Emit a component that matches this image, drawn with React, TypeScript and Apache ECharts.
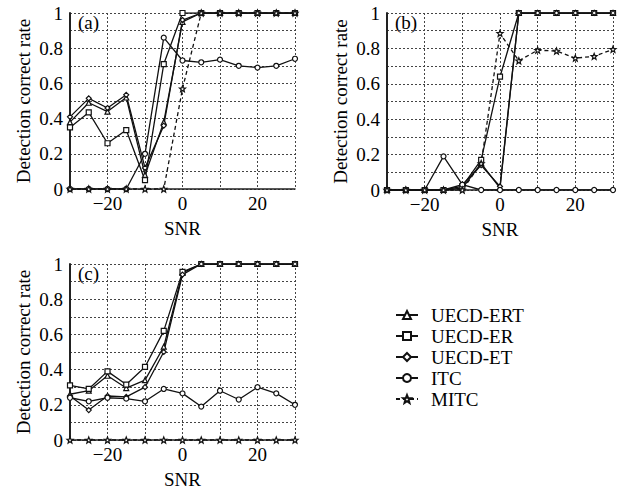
import React, { useEffect, useRef } from "react";
import * as echarts from "echarts";

const snr = [-30, -25, -20, -15, -10, -5, 0, 5, 10, 15, 20, 25, 30];
const seriesNames = ["UECD-ERT", "UECD-ER", "UECD-ET", "ITC", "MITC"];

// Panel (a)
const ertA = [0.38, 0.49, 0.44, 0.52, 0.08, 0.38, 0.95, 1, 1, 1, 1, 1, 1];
const erA = [0.35, 0.435, 0.26, 0.335, 0.05, 0.71, 1.0, 1, 1, 1, 1, 1, 1];
const etA = [0.41, 0.515, 0.46, 0.535, 0.12, 0.36, 0.96, 1, 1, 1, 1, 1, 1];
const itcA = [0, 0, 0, 0, 0.2, 0.86, 0.73, 0.72, 0.735, 0.7, 0.69, 0.7, 0.74];
const mitcA = [0, 0, 0, 0, 0, 0, 0.57, 1, 1, 1, 1, 1, 1];

// Panel (b)
const ertB = [0, 0, 0, 0, 0.01, 0.15, 0.01, 1, 1, 1, 1, 1, 1];
const erB = [0, 0, 0, 0, 0.02, 0.17, 0.64, 1, 1, 1, 1, 1, 1];
const etB = [0, 0, 0, 0, 0.03, 0.14, 0.02, 1, 1, 1, 1, 1, 1];
const itcB = [0, 0, 0, 0.19, 0.03, 0, 0, 0, 0, 0, 0, 0, 0];
const mitcB = [0, 0, 0, 0, 0, 0.15, 0.885, 0.73, 0.79, 0.785, 0.745, 0.755, 0.795];

// Panel (c)
const ertC = [0.26, 0.28, 0.365, 0.295, 0.34, 0.53, 0.95, 1, 1, 1, 1, 1, 1];
const erC = [0.31, 0.29, 0.39, 0.315, 0.415, 0.62, 0.955, 1, 1, 1, 1, 1, 1];
const etC = [0.25, 0.17, 0.25, 0.245, 0.3, 0.5, 0.94, 1, 1, 1, 1, 1, 1];
const itcC = [0.24, 0.22, 0.24, 0.235, 0.22, 0.29, 0.265, 0.19, 0.28, 0.23, 0.3, 0.265, 0.2];
const mitcC = [0, 0, 0, 0, 0, 0, 0, 0, 0, 0, 0, 0, 0];

const panels = [
  [ertA, erA, etA, itcA, mitcA],
  [ertB, erB, etB, itcB, mitcB],
  [ertC, erC, etC, itcC, mitcC],
];
const panelLabels = ["(a)", "(b)", "(c)"];

const STAR = "path://M0,-10L2.6,-3.4L9.5,-3.1L4.1,1.3L5.9,8.1L0,4.2L-5.9,8.1L-4.1,1.3L-9.5,-3.1L-2.6,-3.4Z";
const symbols = ["triangle", "rect", "diamond", "circle", STAR];

const FONT = "Liberation Serif";
const INK = "#111";

export default function App() {
  const ref = useRef<HTMLDivElement>(null);
  useEffect(() => {
    if (!ref.current) return;
    const chart = echarts.init(ref.current, undefined, { renderer: "svg" });
    const grids = [
      { left: 70, top: 13, width: 225, height: 176 },
      { left: 387, top: 13, width: 226, height: 177 },
      { left: 70, top: 264, width: 225, height: 176 },
    ];
    const xAxes = grids.map((_, i) => ({
      type: "value",
      gridIndex: i,
      min: -30,
      max: 30,
      interval: 10,
      name: "SNR",
      nameLocation: "middle",
      nameGap: 30,
      nameTextStyle: { fontFamily: FONT, fontSize: 19, color: "#000" },
      axisLine: { show: true, onZero: false, lineStyle: { color: "#222", width: 1.5 } },
      axisTick: { show: false },
      axisLabel: {
        margin: 5,
        fontFamily: FONT,
        fontSize: 19,
        color: "#000",
        showMinLabel: true,
        showMaxLabel: true,
        formatter: (v: number) => {
          if (Math.round(v) % 20 !== 0) return "";
          return v < 0 ? "\u2212" + Math.abs(v) : String(v);
        },
      },
      splitLine: { show: true, lineStyle: { type: [2, 2], color: "#444", width: 1 } },
    }));
    const yAxes = grids.map((_, i) => ({
      type: "value",
      gridIndex: i,
      min: 0,
      max: 1,
      interval: 0.1,
      name: "Detection correct rate",
      nameLocation: "middle",
      nameGap: 37,
      nameRotate: 90,
      nameTextStyle: { fontFamily: FONT, fontSize: 19, color: "#000" },
      axisLine: { show: true, onZero: false, lineStyle: { color: "#222", width: 2 } },
      axisTick: { show: false },
      axisLabel: {
        margin: 7,
        fontFamily: FONT,
        fontSize: 19,
        color: "#000",
        formatter: (v: number) => {
          const k = Math.round(v * 10);
          if (k % 2 !== 0) return "";
          if (k === 0) return "0";
          if (k === 10) return "1";
          return "0." + k;
        },
      },
      splitLine: { show: true, lineStyle: { type: [2, 2], color: "#444", width: 1 } },
    }));
    const series: any[] = [];
    panels.forEach((panel, p) => {
      panel.forEach((vals, s) => {
        series.push({
          type: "line",
          name: seriesNames[s],
          xAxisIndex: p,
          yAxisIndex: p,
          data: snr.map((x, i) => [x, vals[i]]),
          symbol: symbols[s],
          symbolSize: s === 4 ? 6 : 5,
          showSymbol: true,
          lineStyle: { color: INK, width: 1.3, type: s === 4 ? [4, 3] : "solid" },
          itemStyle: { color: "#fff", borderColor: INK, borderWidth: 1.2 },
          emphasis: { disabled: true },
        });
      });
    });
    chart.setOption({
      animation: false,
      backgroundColor: "#fff",
      grid: grids,
      xAxis: xAxes,
      yAxis: yAxes,
      series,
      legend: {
        data: seriesNames,
        orient: "vertical",
        left: 390,
        top: 300,
        itemWidth: 22,
        itemHeight: 10,
        itemGap: 1,
        selectedMode: false,
        textStyle: { fontFamily: FONT, fontSize: 19, color: "#000", lineHeight: 20, padding: [0, 0, 0, 8] },
      },
      graphic: panelLabels.map((t, i) => ({
        type: "text",
        left: [78, 395, 78][i],
        top: [13, 13, 264][i],
        style: { text: t, font: `19px ${FONT}`, fill: "#000" },
      })),
    });
    return () => chart.dispose();
  }, []);
  return (
    <div
      ref={ref}
      style={{ position: "fixed", left: 0, top: 0, width: 619, height: 493, background: "#fff" }}
    />
  );
}
